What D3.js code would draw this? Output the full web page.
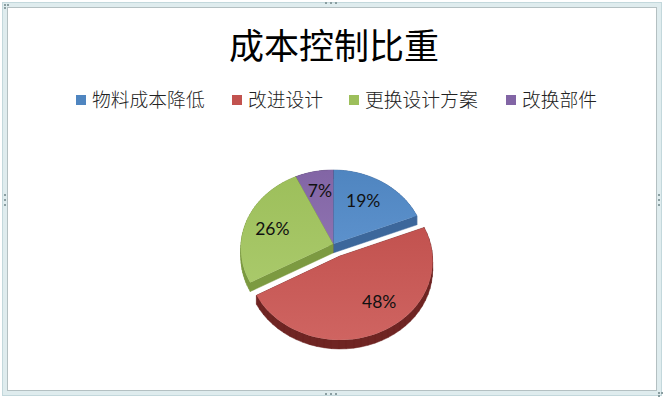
<!DOCTYPE html>
<html>
<head>
<meta charset="utf-8">
<script src="https://cdn.jsdelivr.net/npm/d3@7"></script>
<style>
  html, body { margin: 0; padding: 0; background: #fff; }
  svg { display: block; }
</style>
</head>
<body>
<div id="chart"></div>
<script>
const title = "成本控制比重";
const categories = ["物料成本降低", "改进设计", "更换设计方案", "改换部件"];
const values = [19, 48, 26, 7];

// drawing styles, one per category
const topColors = ["#4f85c0", "#c2524f", "#9dbf5b", "#8265a5"];
const topLight = ["#5c91cc", "#cf6461", "#a9c96a", "#8e72b0"];
const sideColors = ["#3c679b", "#6f2523", "#7c9a41", "#5f4a7c"];
const explode = [0, 0.17, 0, 0];
const legendX = [76, 232, 349, 506];
const labelNudge = [[-1, -4], [14, 0], [-7, 0], [-1, -7]];

const width = 666, height = 400;
const cx = 333, cy = 244, rx = 92, ry = 78, persp = 0.054, depth = 9;

const svg = d3.select("#chart").append("svg")
  .attr("width", width).attr("height", height);

// frame of the selected chart
svg.append("rect").attr("x", 5).attr("y", 5).attr("width", 654).attr("height", 388)
  .attr("fill", "none").attr("stroke", "#dfecee").attr("stroke-width", 4);
svg.append("rect").attr("x", 7.5).attr("y", 7.5).attr("width", 649).attr("height", 383)
  .attr("fill", "none").attr("stroke", "#b4c0c2").attr("stroke-width", 1);
svg.append("rect").attr("x", 2.5).attr("y", 2.5).attr("width", 659).attr("height", 393)
  .attr("fill", "none").attr("stroke", "#c3d8dc").attr("stroke-width", 1);

// the little handles on corners and sides
const dots = [];
[[331, 394], [331, 3]].forEach(p => [-5, 0, 5].forEach(d => dots.push([p[0] + d, p[1]])));
[[5, 200], [659, 200]].forEach(p => [-5, 0, 5].forEach(d => dots.push([p[0], p[1] + d])));
[[5, 5], [659, 393]].forEach(p => { dots.push(p, [p[0] + 3, p[1]], [p[0], p[1] + 3]); });
svg.selectAll(".dot").data(dots).enter().append("rect")
  .attr("x", d => d[0] - 1).attr("y", d => d[1] - 1)
  .attr("width", 2).attr("height", 2).attr("fill", "#8a9ea1");

// title
svg.append("text").attr("x", 334).attr("y", 59)
  .attr("text-anchor", "middle")
  .style("font-family", "'Noto Sans CJK SC'").style("font-size", "35px").style("font-weight", 400)
  .attr("fill", "#000").text(title);

// legend
const color = d3.scaleOrdinal().domain(categories).range(topColors);
const legend = svg.selectAll(".legend").data(categories).enter().append("g")
  .attr("transform", (d, i) => "translate(" + legendX[i] + ",95)");
legend.append("rect").attr("width", 10).attr("height", 10).attr("fill", d => color(d));
legend.append("text").attr("x", 16).attr("y", 11.5)
  .style("font-family", "'Noto Sans CJK SC'").style("font-size", "18.8px").style("font-weight", 300)
  .attr("fill", "#222").text(d => d);

// gradients for the slice tops
const defs = svg.append("defs");
categories.forEach((c, i) => {
  const g = defs.append("linearGradient").attr("id", "top" + i)
    .attr("x1", 0).attr("y1", 0).attr("x2", 0).attr("y2", 1);
  g.append("stop").attr("offset", "0%").attr("stop-color", topColors[i]);
  g.append("stop").attr("offset", "100%").attr("stop-color", topLight[i]);
});

// pie with a perspective tilt, near side is a bit bigger
const x = d3.scaleLinear().domain([-1, 1]).range([cx - rx, cx + rx]);
const y = d3.scaleLinear().domain([-1, 1]).range([cy - ry, cy + ry]);
function project(u, v) {
  const s = 1 / (1 - persp * v);
  return [x(u * s), y(v * s)];
}

const arcs = d3.pie().sort(null)(values);

function outline(a, i) {
  const mid = (a.startAngle + a.endAngle) / 2;
  const ox = explode[i] * Math.sin(mid), oy = -explode[i] * Math.cos(mid);
  const pts = [project(ox, oy)];
  d3.range(0, 41).forEach(k => {
    const t = a.startAngle + (a.endAngle - a.startAngle) * k / 40;
    pts.push(project(ox + Math.sin(t), oy - Math.cos(t)));
  });
  return pts;
}

// side wall, all quads wound the same way so overlaps do not cancel out
function wall(pts) {
  let d = "";
  pts.forEach((p, k) => {
    const q = pts[(k + 1) % pts.length];
    const quad = [p, q, [q[0], q[1] + depth], [p[0], p[1] + depth]];
    if (d3.polygonArea(quad) < 0) quad.reverse();
    d += d3.line()(quad) + "Z";
  });
  return d;
}

// red goes last since it sits in front of the others
const order = [0, 3, 2, 1];
const pie = svg.append("g");
order.forEach(i => {
  const pts = outline(arcs[i], i);
  pie.append("path").attr("d", wall(pts))
    .attr("fill", sideColors[i]).attr("stroke", sideColors[i]).attr("stroke-width", 0.5);
  pie.append("path").attr("d", d3.line()(pts) + "Z").attr("fill", "url(#top" + i + ")");
});

// data labels
svg.selectAll(".label").data(arcs).enter().append("text")
  .attr("transform", (a, i) => {
    const mid = (a.startAngle + a.endAngle) / 2;
    const f = 0.62 + explode[i];
    const p = project(f * Math.sin(mid), -f * Math.cos(mid));
    return "translate(" + (p[0] + labelNudge[i][0]) + "," + (p[1] + labelNudge[i][1]) + ")";
  })
  .attr("text-anchor", "middle").attr("dy", "0.35em")
  .style("font-family", "Lato").style("font-size", "17.5px")
  .attr("fill", "#111").text(a => a.value + "%");
</script>
</body>
</html>
